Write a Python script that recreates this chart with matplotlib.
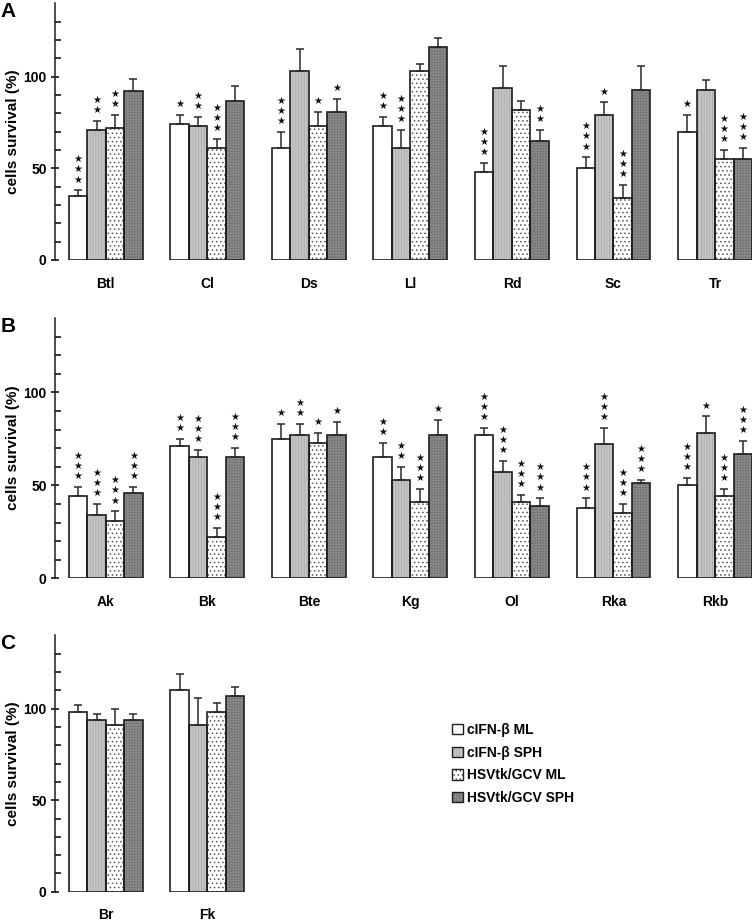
import matplotlib
matplotlib.use('Agg')
import matplotlib.pyplot as plt
import matplotlib.patches as mpatches
import numpy as np

plt.rcParams['font.family'] = ['Liberation Sans', 'DejaVu Sans']
plt.rcParams['hatch.linewidth'] = 0.6

series = ['cIFN-\u03b2 ML', 'cIFN-\u03b2 SPH', 'HSVtk/GCV ML', 'HSVtk/GCV SPH']

# panel A
groups_a = ['Btl', 'Cl', 'Ds', 'Ll', 'Rd', 'Sc', 'Tr']
a_ifn_ml = [35, 74, 61, 73, 48, 50, 70]
a_ifn_ml_err = [3, 5, 9, 5, 5, 6, 9]
a_ifn_sph = [71, 73, 103, 61, 94, 79, 93]
a_ifn_sph_err = [5, 5, 12, 10, 12, 7, 5]
a_tk_ml = [72, 61, 73, 103, 82, 34, 55]
a_tk_ml_err = [7, 5, 8, 4, 5, 7, 5]
a_tk_sph = [92, 87, 81, 116, 65, 93, 55]
a_tk_sph_err = [7, 8, 7, 5, 6, 13, 6]
a_stars = [[3, 1, 3, 2, 3, 3, 1],
           [2, 2, 0, 3, 0, 1, 0],
           [2, 3, 1, 0, 0, 3, 3],
           [0, 0, 1, 0, 2, 0, 3]]

# panel B
groups_b = ['Ak', 'Bk', 'Bte', 'Kg', 'Ol', 'Rka', 'Rkb']
b_ifn_ml = [44, 71, 75, 65, 77, 38, 50]
b_ifn_ml_err = [5, 4, 8, 8, 4, 5, 4]
b_ifn_sph = [34, 65, 77, 53, 57, 72, 78]
b_ifn_sph_err = [6, 4, 6, 7, 6, 9, 9]
b_tk_ml = [31, 22, 73, 41, 41, 35, 44]
b_tk_ml_err = [5, 5, 5, 7, 4, 5, 4]
b_tk_sph = [46, 65, 77, 77, 39, 51, 67]
b_tk_sph_err = [3, 5, 7, 8, 4, 2, 7]
b_stars = [[3, 2, 1, 2, 3, 3, 3],
           [3, 3, 2, 2, 3, 3, 1],
           [3, 3, 1, 3, 3, 3, 3],
           [3, 3, 1, 1, 3, 3, 3]]

# panel C
groups_c = ['Br', 'Fk']
c_ifn_ml = [98, 110]
c_ifn_ml_err = [4, 9]
c_ifn_sph = [94, 91]
c_ifn_sph_err = [3, 15]
c_tk_ml = [91, 98]
c_tk_ml_err = [9, 5]
c_tk_sph = [94, 107]
c_tk_sph_err = [3, 5]
c_stars = [[0, 0], [0, 0], [0, 0], [0, 0]]

# face, hatch, hatch colour per series
styles = [('white', None, 'white'),
          ('#c6c6c6', '||||||', '#a9a9a9'),
          ('white', '....', '#555555'),
          ('#8e8e8e', '++++++', '#767676')]
edge = '#1e1e1e'
gap = 5.5


def draw_panel(ax, groups, vals, errs, stars, letter):
    x0 = np.arange(len(groups)) * gap
    for j in range(4):
        face, hatch, hcol = styles[j]
        x = x0 + j
        ax.bar(x, vals[j], width=1, align='edge', color=face, hatch=hatch,
               edgecolor=hcol, linewidth=0, zorder=2)
        ax.bar(x, vals[j], width=1, align='edge', color='none',
               edgecolor=edge, linewidth=1.2, zorder=2.5)
        ax.errorbar(x + 0.5, vals[j], yerr=[np.zeros(len(errs[j])), errs[j]],
                    fmt='none', ecolor='#2a2a2a', elinewidth=1.1, capsize=2.9,
                    capthick=1.1, zorder=3)
        for xi, v, e, n in zip(x + 0.5, vals[j], errs[j], stars[j]):
            for k in range(n):
                ax.annotate('\u2605', xy=(xi, v + e), xytext=(0, 7.8 + 7.3 * k),
                            textcoords='offset points', ha='center', va='center',
                            fontsize=7.2, family='DejaVu Sans', color='#111111')
    ax.set_xlim(-0.75, gap * 6 + 4)
    ax.set_ylim(0, 140)
    ax.set_yticks([0, 50, 100])
    ax.set_yticks(np.arange(10, 140, 10), minor=True)
    ax.set_xticks(x0 + 2)
    ax.set_xticklabels(groups, fontsize=10, fontweight='bold')
    ax.tick_params(axis='x', length=0, pad=12)
    ax.tick_params(axis='y', which='major', direction='inout', length=6,
                   width=1.1, labelsize=10, pad=3)
    ax.tick_params(axis='y', which='minor', direction='in', length=4, width=1.1)
    for lab in ax.get_yticklabels():
        lab.set_fontweight('bold')
    for s in ['top', 'right', 'bottom']:
        ax.spines[s].set_visible(False)
    ax.spines['left'].set_linewidth(1.1)
    ax.spines['left'].set_color(edge)
    ax.set_ylabel('cells survival (%)', fontsize=11, fontweight='bold')
    ax.yaxis.set_label_coords(-0.05, 0.5)
    ax.text(-0.078, 1.005, letter, transform=ax.transAxes, fontsize=15,
            fontweight='bold', ha='left', va='top')


fig = plt.figure(figsize=(7.54, 9.21), dpi=100)
ax_a = fig.add_axes([0.0729, 0.7177, 0.9244, 0.2786])
ax_b = fig.add_axes([0.0729, 0.3721, 0.9244, 0.2827])
ax_c = fig.add_axes([0.0729, 0.0318, 0.9244, 0.2782])

draw_panel(ax_a, groups_a,
           [a_ifn_ml, a_ifn_sph, a_tk_ml, a_tk_sph],
           [a_ifn_ml_err, a_ifn_sph_err, a_tk_ml_err, a_tk_sph_err],
           a_stars, 'A')
draw_panel(ax_b, groups_b,
           [b_ifn_ml, b_ifn_sph, b_tk_ml, b_tk_sph],
           [b_ifn_ml_err, b_ifn_sph_err, b_tk_ml_err, b_tk_sph_err],
           b_stars, 'B')
draw_panel(ax_c, groups_c,
           [c_ifn_ml, c_ifn_sph, c_tk_ml, c_tk_sph],
           [c_ifn_ml_err, c_ifn_sph_err, c_tk_ml_err, c_tk_sph_err],
           c_stars, 'C')

# legend handles: hatched fill overlaid with a dark outline
handles = []
for j in range(4):
    face, hatch, hcol = styles[j]
    fill = mpatches.Patch(facecolor=face, hatch=hatch, edgecolor=hcol, linewidth=0)
    outline = mpatches.Patch(facecolor='none', edgecolor=edge, linewidth=1.0)
    handles.append((fill, outline))
leg = fig.legend(handles, series, loc='upper left',
                 bbox_to_anchor=(452 / 754, 1 - 723 / 921),
                 bbox_transform=fig.transFigure, frameon=False,
                 borderpad=0, borderaxespad=0, handlelength=0.78,
                 handleheight=0.78, handletextpad=0.3, labelspacing=0.62,
                 prop={'size': 10, 'weight': 'bold'})

fig.savefig('out.png', dpi=100)
